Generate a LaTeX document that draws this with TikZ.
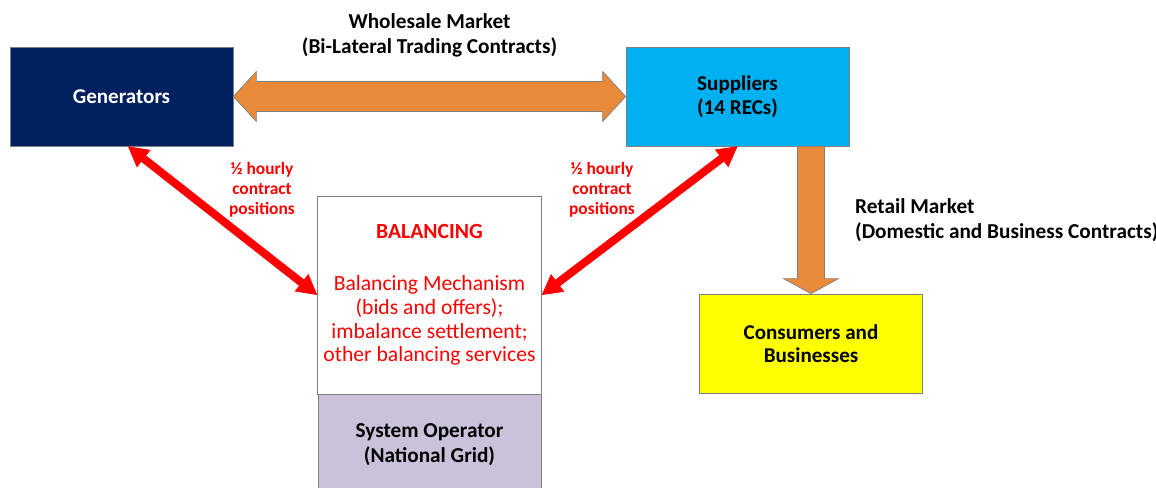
\documentclass[tikz,border=0pt]{standalone}
\usepackage{fontspec}
\setmainfont{Carlito}
\definecolor{gennavy}{RGB}{0,32,96}
\definecolor{supcyan}{RGB}{0,176,240}
\definecolor{consyellow}{RGB}{255,255,0}
\definecolor{sysgrey}{RGB}{204,193,218}
\definecolor{mktorange}{RGB}{233,138,59}
\definecolor{boxgrey}{RGB}{127,127,127}
\usepackage{tikz}
\usetikzlibrary{arrows.meta, positioning, calc}

\begin{document}
\begin{tikzpicture}[
    party/.style={draw=boxgrey, minimum width=4.46cm, minimum height=1.98cm, align=center, font=\fontsize{12}{13.4}\selectfont\bfseries},
    mktarrow/.style={draw=boxgrey, fill=mktorange, line width=0.4pt},
    contract/.style={draw=red, line width=0.16cm, {Triangle[length=0.4cm, width=0.44cm, line width=0.4pt]}-{Triangle[length=0.4cm, width=0.44cm, line width=0.4pt]}},
    hourly/.style={text=red, align=center, font=\fontsize{9.9}{11.4}\selectfont\bfseries},
    mktlabel/.style={font=\fontsize{12.1}{14.3}\selectfont\bfseries}
  ]
  \useasboundingbox (0,0) rectangle (23.12,9.76);

  % Market parties
  \node[party, fill=gennavy, text=white] (gen) at (2.43, 7.83) {Generators};
  \node[party, fill=supcyan] (sup) at (14.75, 7.83) {Suppliers\\(14 RECs)};
  \node[party, fill=consyellow] (cons) at (16.22, 2.89) {Consumers and\\Businesses};

  % Balancing and system operator
  \node[party, fill=white, minimum height=3.96cm, text=red, font=\fontsize{12.3}{13.4}\selectfont] (bal) at (8.59, 3.86) {
    \textbf{BALANCING}\\[0.57cm]
    Balancing Mechanism\\
    (bids and offers);\\
    imbalance settlement;\\
    other balancing services
  };
  \node[party, fill=sysgrey, minimum height=2cm, below=0pt of bal, font=\fontsize{12.1}{14.2}\selectfont\bfseries] (sysop) {System Operator\\(National Grid)};

  % Wholesale market (two-way)
  \draw[mktarrow] (gen.east) -- ($(gen.east)+(0.46,0.5)$) -- ($(gen.east)+(0.46,0.3)$)
    -- ($(sup.west)+(-0.46,0.3)$) -- ($(sup.west)+(-0.46,0.5)$) -- (sup.west)
    -- ($(sup.west)+(-0.46,-0.5)$) -- ($(sup.west)+(-0.46,-0.3)$)
    -- ($(gen.east)+(0.46,-0.3)$) -- ($(gen.east)+(0.46,-0.5)$) -- cycle;
  \node[mktlabel, align=center] (whole) at ($(gen.east)!0.5!(sup.west)+(0,1.23)$) {Wholesale Market\\(Bi-Lateral Trading Contracts)};

  % Retail market (down to consumers)
  \coordinate (retailtop) at (sup.south -| cons.north);
  \draw[mktarrow] ($(retailtop)+(-0.27,0)$) -- ($(cons.north)+(-0.27,0.3)$) -- ($(cons.north)+(-0.55,0.3)$)
    -- (cons.north) -- ($(cons.north)+(0.55,0.3)$) -- ($(cons.north)+(0.27,0.3)$)
    -- ($(retailtop)+(0.27,0)$) -- cycle;
  \node[mktlabel, align=left, anchor=west] (retail) at (16.98, 5.36) {Retail Market\\(Domestic and Business Contracts)};

  % Contract positions
  \draw[contract] ($(gen.south)+(0.13,0)$) -- (bal.west);
  \draw[contract] (bal.east) -- (sup.south);
  \node[hourly] (hgen) at (5.24, 5.96) {½ hourly\\contract\\positions};
  \node[hourly] (hsup) at (12.04, 5.96) {½ hourly\\contract\\positions};
\end{tikzpicture}
\end{document}
